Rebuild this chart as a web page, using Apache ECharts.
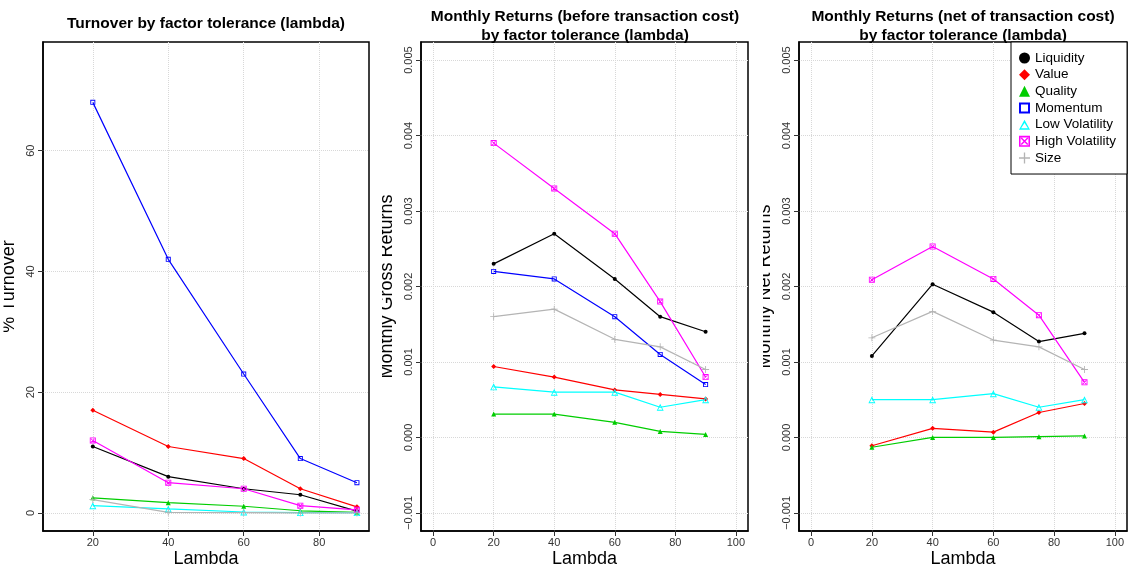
<!DOCTYPE html>
<html>
<head>
<meta charset="utf-8">
<script src="https://cdn.jsdelivr.net/npm/echarts@6/dist/echarts.min.js"></script>
<style>
html,body{margin:0;padding:0;background:#fff;}
#chart{width:1128px;height:570px;}
</style>
</head>
<body>
<div id="chart"></div>
<script>
// ---- data ----
const lambda = [20, 40, 60, 75, 90];
const factorNames = ['Liquidity', 'Value', 'Quality', 'Momentum', 'Low Volatility', 'High Volatility', 'Size'];

// % turnover
const liqT  = [11, 6, 4, 3, 0.3];
const valT  = [17, 11, 9, 4, 1];
const qualT = [2.5, 1.7, 1.1, 0.35, 0.1];
const momT  = [68, 42, 23, 9, 5];
const lowT  = [1.2, 0.65, 0.15, 0.05, 0.05];
const highT = [12, 5, 4, 1.2, 0.5];
const sizeT = [2.2, 0.1, 0.05, 0.0, 0.0];

// monthly gross returns
const liqG  = [0.0023, 0.0027, 0.0021, 0.0016, 0.0014];
const valG  = [0.00094, 0.0008, 0.00063, 0.00057, 0.00051];
const qualG = [0.00031, 0.00031, 0.0002, 0.00008, 0.00004];
const momG  = [0.0022, 0.0021, 0.0016, 0.0011, 0.0007];
const lowG  = [0.00067, 0.0006, 0.0006, 0.0004, 0.0005];
const highG = [0.0039, 0.0033, 0.0027, 0.0018, 0.0008];
const sizeG = [0.0016, 0.0017, 0.0013, 0.0012, 0.0009];

// monthly net returns (Momentum not visible in the plotted range)
const liqN  = [0.00108, 0.00203, 0.00166, 0.00127, 0.00138];
const valN  = [-0.00011, 0.00012, 0.00007, 0.00033, 0.00045];
const qualN = [-0.00013, 0.0, 0.0, 0.00001, 0.00002];
const momN  = [];
const lowN  = [0.0005, 0.0005, 0.00058, 0.0004, 0.0005];
const highN = [0.00209, 0.00253, 0.0021, 0.00162, 0.00073];
const sizeN = [0.00132, 0.00167, 0.00129, 0.0012, 0.0009];

const xTicksTurn = [20, 40, 60, 80];
const xTicksRet = [0, 20, 40, 60, 80, 100];
const yTicksTurn = [0, 20, 40, 60];
const yTicksRet = [-0.001, 0, 0.001, 0.002, 0.003, 0.004, 0.005];

// ---- styling ----
const FONT = '"Liberation Sans", Arial, Helvetica, sans-serif';
const PLUS = 'path://M4.4,0H5.6V4.4H10V5.6H5.6V10H4.4V5.6H0V4.4H4.4Z';
const BOXX = 'path://M0,0H10V10H0Z M1.4,1.4V8.6H8.6V1.4Z M1.6,2.5L2.5,1.6L8.4,7.5L7.5,8.4Z M7.5,1.6L8.4,2.5L2.5,8.4L1.6,7.5Z';
const OSQ = 'path://M0,0H10V10H0Z M1.8,1.8V8.2H8.2V1.8Z';
const OTRI = 'path://M5,0L10,9L0,9Z M5,2.9L1.9,7.8H8.1Z';
const styles = {
  'Liquidity':       {color: '#000000', symbol: 'circle',   size: 4},
  'Value':           {color: '#ff0000', symbol: 'diamond',  size: 5},
  'Quality':         {color: '#00cd00', symbol: 'triangle', size: 5},
  'Momentum':        {color: '#0000ff', symbol: OSQ,        size: 5},
  'Low Volatility':  {color: '#00ffff', symbol: OTRI,       size: 7},
  'High Volatility': {color: '#ff00ff', symbol: BOXX,       size: 6},
  'Size':            {color: '#b4b4b4', symbol: PLUS,       size: 7}
};
const setT = [liqT, valT, qualT, momT, lowT, highT, sizeT];
const setG = [liqG, valG, qualG, momG, lowG, highG, sizeG];
const setN = [liqN, valN, qualN, momN, lowN, highN, sizeN];

function pairs(vals) { return vals.map((v, i) => [lambda[i], v]); }
function mkSeries(sets, idx) {
  return factorNames.map((name, k) => {
    const s = styles[name];
    return {
      name: name, type: 'line', xAxisIndex: idx, yAxisIndex: idx,
      data: pairs(sets[k]),
      symbol: s.symbol, symbolSize: s.size, showSymbol: true,
      lineStyle: {color: s.color, width: 1.2},
      itemStyle: {color: s.color, borderWidth: 0},
      emphasis: {disabled: true},
      z: 3
    };
  });
}
function retFmt(v) {
  const s = Math.abs(v) < 1e-12 ? '0.000' : v.toFixed(3);
  return s.replace('-', '\u2212');
}
function mkX(idx, min, max, ticks) {
  return {
    type: 'value', gridIndex: idx, min: min, max: max,
    name: 'Lambda', nameLocation: 'middle', nameGap: 19, nameMoveOverlap: false,
    nameTextStyle: {fontFamily: FONT, fontSize: 18, color: '#000'},
    axisLine: {show: true, onZero: false, lineStyle: {color: '#000', width: 1.5}},
    axisTick: {show: true, inside: false, length: 5, customValues: ticks, lineStyle: {color: '#333'}},
    axisLabel: {show: true, customValues: ticks, margin: 6, fontFamily: FONT, fontSize: 11, color: '#333'},
    splitLine: {show: true, lineStyle: {color: '#d8d8d8', type: 'dotted', width: 1}}
  };
}
function mkY(idx, min, max, ticks, name, fmt) {
  return {
    type: 'value', gridIndex: idx, min: min, max: max,
    name: name, nameLocation: 'middle', nameGap: 25, nameRotate: 90, nameMoveOverlap: false,
    nameTextStyle: {fontFamily: FONT, fontSize: 18, color: '#000'},
    axisLine: {show: true, onZero: false, lineStyle: {color: '#000', width: 1.5}},
    axisTick: {show: true, inside: false, length: 5, customValues: ticks, lineStyle: {color: '#333'}},
    axisLabel: {show: true, customValues: ticks, rotate: 90, margin: 7, fontFamily: FONT, fontSize: 11, color: '#333',
                formatter: fmt},
    splitLine: {show: true, lineStyle: {color: '#d8d8d8', type: 'dotted', width: 1}}
  };
}

const titleStyle = {fontFamily: FONT, fontSize: 15.5, fontWeight: 'bold', color: '#000', lineHeight: 19};
const gridBase = {top: 42, bottom: 570 - 531, show: true, borderColor: '#000', borderWidth: 1.5,
                  backgroundColor: 'transparent', containLabel: false, outerBoundsMode: 'none'};

const option = {
  animation: false,
  backgroundColor: '#fff',
  title: [
    {text: 'Turnover by factor tolerance (lambda)', left: 206, textAlign: 'center', top: 14, textStyle: titleStyle, padding: 0},
    {text: 'Monthly Returns (before transaction cost)\nby factor tolerance (lambda)', left: 585, textAlign: 'center', top: 7, textStyle: titleStyle, padding: 0},
    {text: 'Monthly Returns (net of transaction cost)\nby factor tolerance (lambda)', left: 963, textAlign: 'center', top: 7, textStyle: titleStyle, padding: 0}
  ],
  grid: [
    Object.assign({left: 43, right: 1128 - 369}, gridBase),
    Object.assign({left: 421, right: 1128 - 748}, gridBase),
    Object.assign({left: 799, right: 1}, gridBase)
  ],
  xAxis: [
    mkX(0, 6.8, 93.2, xTicksTurn),
    mkX(1, -4, 104, xTicksRet),
    mkX(2, -4, 104, xTicksRet)
  ],
  yAxis: [
    mkY(0, -3, 78, yTicksTurn, '% Turnover', v => String(Math.round(v))),
    mkY(1, -0.00124, 0.00524, yTicksRet, 'Monthly Gross Returns', retFmt),
    mkY(2, -0.00124, 0.00524, yTicksRet, 'Monthly Net Returns', retFmt)
  ],
  legend: {
    orient: 'vertical', left: 1011, top: 42,
    padding: [9, 11, 9, 8],
    itemWidth: 11, itemHeight: 11, itemGap: 2.67,
    backgroundColor: '#fff', borderColor: '#000', borderWidth: 1, borderRadius: 0,
    textStyle: {fontFamily: FONT, fontSize: 13.5, color: '#000', lineHeight: 14},
    selectedMode: false,
    data: factorNames.map(n => {
      const s = styles[n];
      return {name: n, icon: s.symbol, itemStyle: {color: s.color, borderWidth: 0}};
    }),
    z: 10
  },
  graphic: [
    {type: 'rect', shape: {x: 0, y: 120, width: 3.5, height: 330}, style: {fill: '#fff'}, z: 100, silent: true},
    {type: 'rect', shape: {x: 371, y: 120, width: 11, height: 330}, style: {fill: '#fff'}, z: 100, silent: true},
    {type: 'rect', shape: {x: 752, y: 120, width: 11, height: 330}, style: {fill: '#fff'}, z: 100, silent: true}
  ],
  series: [].concat(mkSeries(setT, 0), mkSeries(setG, 1), mkSeries(setN, 2))
};

const chart = echarts.init(document.getElementById('chart'), null, {renderer: 'canvas'});
chart.setOption(option);
</script>
</body>
</html>
